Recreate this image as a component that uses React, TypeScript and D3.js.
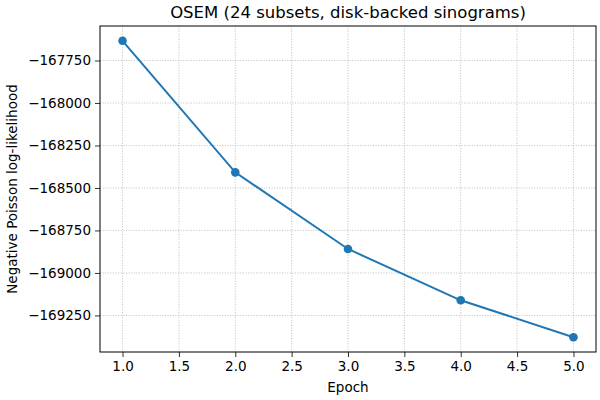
import React, { useEffect, useRef } from "react";
import * as d3 from "d3";

const epochs = [1, 2, 3, 4, 5];
const negLogLik = [-167634, -168408, -168859, -169161, -169378];
const xTicks = [1.0, 1.5, 2.0, 2.5, 3.0, 3.5, 4.0, 4.5, 5.0];
const yTicks = [-167750, -168000, -168250, -168500, -168750, -169000, -169250];

const width = 600;
const height = 400;
const margin = { top: 26, right: 4, bottom: 48, left: 100 };

const App: React.FC = () => {
  const ref = useRef<SVGSVGElement | null>(null);

  useEffect(() => {
    const svg = d3.select(ref.current);
    svg.selectAll("*").remove();

    const font = "DejaVu Sans, sans-serif";
    const x0 = margin.left;
    const x1 = width - margin.right;
    const y0 = height - margin.bottom;
    const y1 = margin.top;

    // matplotlib-like 5% padding around the data
    const xPad = (d3.max(epochs)! - d3.min(epochs)!) * 0.05;
    const yPad = (d3.max(negLogLik)! - d3.min(negLogLik)!) * 0.05;

    const x = d3
      .scaleLinear()
      .domain([d3.min(epochs)! - xPad, d3.max(epochs)! + xPad])
      .range([x0, x1]);
    const y = d3
      .scaleLinear()
      .domain([d3.min(negLogLik)! - yPad, d3.max(negLogLik)! + yPad])
      .range([y0, y1]);

    svg.append("rect").attr("width", width).attr("height", height).attr("fill", "#fff");

    // grid
    const grid = svg.append("g").attr("stroke", "#b0b0b0").attr("stroke-width", 0.8).attr("stroke-dasharray", "1,1.6");
    xTicks.forEach((t) => {
      grid.append("line").attr("x1", x(t)).attr("x2", x(t)).attr("y1", y0).attr("y2", y1);
    });
    yTicks.forEach((t) => {
      grid.append("line").attr("x1", x0).attr("x2", x1).attr("y1", y(t)).attr("y2", y(t));
    });

    // axes
    const fmtMinus = (v: number) => (v < 0 ? "\u2212" + Math.abs(v) : String(v));

    const xAxis = svg
      .append("g")
      .attr("transform", `translate(0,${y0})`)
      .call(
        d3
          .axisBottom(x)
          .tickValues(xTicks)
          .tickSize(5)
          .tickPadding(4)
          .tickFormat((d) => (d as number).toFixed(1))
      );
    const yAxis = svg
      .append("g")
      .attr("transform", `translate(${x0},0)`)
      .call(
        d3
          .axisLeft(y)
          .tickValues(yTicks)
          .tickSize(5)
          .tickPadding(4)
          .tickFormat((d) => fmtMinus(d as number))
      );
    [xAxis, yAxis].forEach((a) => {
      a.select(".domain").remove();
      a.selectAll("line").attr("stroke", "#000").attr("stroke-width", 0.8);
      a.selectAll("text").attr("fill", "#000").attr("font-family", font).attr("font-size", 13.5);
    });

    // frame
    svg
      .append("rect")
      .attr("x", x0)
      .attr("y", y1)
      .attr("width", x1 - x0)
      .attr("height", y0 - y1)
      .attr("fill", "none")
      .attr("stroke", "#000")
      .attr("stroke-width", 1);

    const pts = epochs.map((e, i) => [e, negLogLik[i]] as [number, number]);
    const line = d3
      .line<[number, number]>()
      .x((d) => x(d[0]))
      .y((d) => y(d[1]));

    svg
      .append("path")
      .datum(pts)
      .attr("d", line)
      .attr("fill", "none")
      .attr("stroke", "#1f77b4")
      .attr("stroke-width", 2);

    svg
      .selectAll(".pt")
      .data(pts)
      .enter()
      .append("circle")
      .attr("cx", (d) => x(d[0]))
      .attr("cy", (d) => y(d[1]))
      .attr("r", 4.3)
      .attr("fill", "#1f77b4");

    // labels
    svg
      .append("text")
      .attr("x", (x0 + x1) / 2)
      .attr("y", 18)
      .attr("text-anchor", "middle")
      .attr("font-family", font)
      .attr("font-size", 16.5)
      .text("OSEM (24 subsets, disk-backed sinograms)");

    svg
      .append("text")
      .attr("x", (x0 + x1) / 2)
      .attr("y", 392)
      .attr("text-anchor", "middle")
      .attr("font-family", font)
      .attr("font-size", 13.5)
      .text("Epoch");

    svg
      .append("text")
      .attr("transform", `translate(17,${(y0 + y1) / 2}) rotate(-90)`)
      .attr("text-anchor", "middle")
      .attr("font-family", font)
      .attr("font-size", 13.5)
      .text("Negative Poisson log-likelihood");
  }, []);

  return (
    <svg
      ref={ref}
      width={width}
      height={height}
      style={{ position: "absolute", left: 0, top: 0 }}
    ></svg>
  );
};

export default App;
